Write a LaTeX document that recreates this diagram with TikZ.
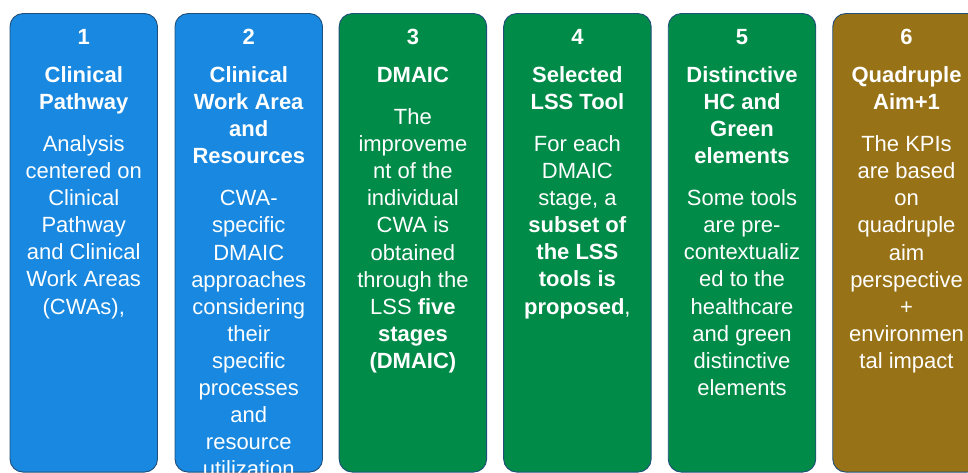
\documentclass[tikz,border=0pt]{standalone}
\usepackage{fontspec}
\setmainfont{Liberation Sans}
\definecolor{cblue}{HTML}{1888E0}
\definecolor{cgreen}{HTML}{008B48}
\definecolor{cbrown}{HTML}{987216}
\definecolor{cedge}{HTML}{1F4E79}
\newcommand{\hb}[1]{\textbf{#1}}
\begin{document}
\begin{tikzpicture}[x=1pt,y=-1pt,
  card/.style={draw=cedge, line width=0.9pt, rounded corners=13pt,
    minimum width=147.5pt, minimum height=458.5pt, inner sep=0pt},
  cardtext/.style={anchor=north, inner sep=0pt, align=center, text=white,
    font=\fontsize{22}{27.1}\selectfont}
]
\useasboundingbox (0,0) rectangle (968,473);
\clip (0,0) rectangle (968,473);

% the six cards
\node[card, fill=cblue]  (b1) at (83.75,242.8) {};
\node[card, fill=cblue]  (b2) at (248.75,242.8) {};
\node[card, fill=cgreen] (b3) at (412.9,242.8) {};
\node[card, fill=cgreen] (b4) at (577.4,242.8) {};
\node[card, fill=cgreen] (b5) at (742.0,242.8) {};
\node[card, fill=cbrown] (b6) at (906.5,242.8) {};

% card contents: number, title, description
\node[cardtext] (t1) at ([yshift=-16.2pt]b1.north) {%
  \hb{1}\\[10.5pt]
  \hb{Clinical}\\ \hb{Pathway}\\[15pt]
  Analysis\\ centered on\\ Clinical\\ Pathway\\ and Clinical\\ Work Areas\\ (CWAs),};

\node[cardtext] (t2) at ([yshift=-16.2pt]b2.north) {%
  \hb{2}\\[10.5pt]
  \hb{Clinical}\\ \hb{Work Area}\\ \hb{and}\\ \hb{Resources}\\[15pt]
  CWA-\\ specific\\ DMAIC\\ approaches\\ considering\\ their\\ specific\\
  processes\\ and\\ resource\\ utilization};

\node[cardtext] (t3) at ([yshift=-16.2pt]b3.north) {%
  \hb{3}\\[10.5pt]
  \hb{DMAIC}\\[15pt]
  The\\ improveme\\ nt of the\\ individual\\ CWA is\\ obtained\\ through the\\
  LSS \hb{five}\\ \hb{stages}\\ \hb{(DMAIC)}};

\node[cardtext] (t4) at ([yshift=-16.2pt]b4.north) {%
  \hb{4}\\[10.5pt]
  \hb{Selected}\\ \hb{LSS Tool}\\[15pt]
  For each\\ DMAIC\\ stage, a\\ \hb{subset of}\\ \hb{the LSS}\\ \hb{tools is}\\
  \hb{proposed},};

\node[cardtext] (t5) at ([yshift=-16.2pt]b5.north) {%
  \hb{5}\\[10.5pt]
  \hb{Distinctive}\\ \hb{HC and}\\ \hb{Green}\\ \hb{elements}\\[15pt]
  Some tools\\ are pre-\\ contextualiz\\ ed to the\\ healthcare\\ and green\\
  distinctive\\ elements};

\node[cardtext] (t6) at ([yshift=-16.2pt]b6.north) {%
  \hb{6}\\[10.5pt]
  \hb{Quadruple}\\ \hb{Aim+1}\\[15pt]
  The KPIs\\ are based\\ on\\ quadruple\\ aim\\ perspective\\ +\\
  environmen\\ tal impact};
\end{tikzpicture}
\end{document}
